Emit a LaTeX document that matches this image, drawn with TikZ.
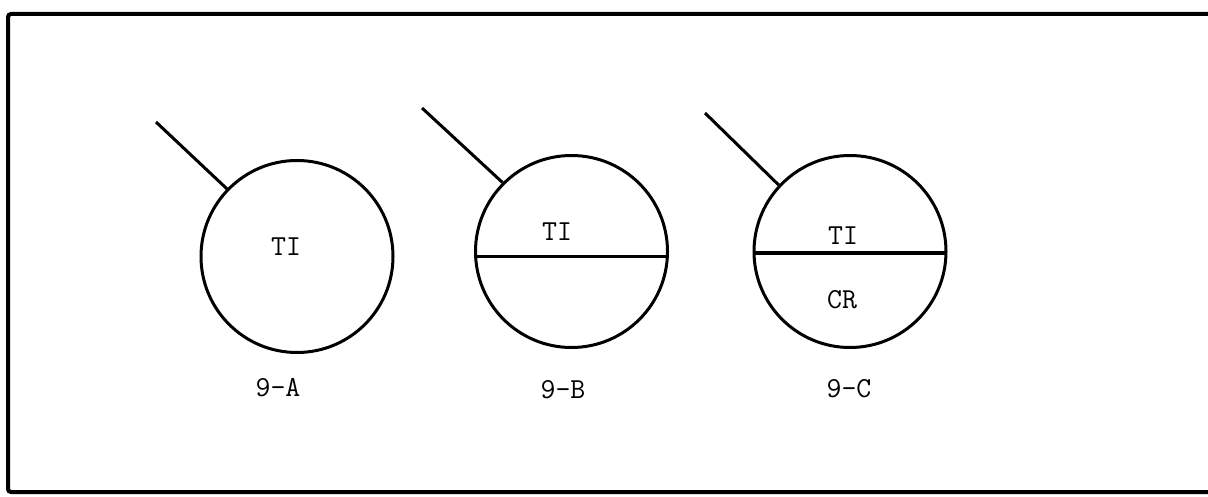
\documentclass[tikz,border=0pt]{standalone}
\usepackage{fontspec}
\begin{document}
\begin{tikzpicture}[x=1pt,y=-1pt,
  ring/.style={circle,draw,line width=3pt,inner sep=0pt,minimum size=192pt},
  stick/.style={line width=3pt},
  divider/.style={line width=3.5pt},
  lbl/.style={font=\fontsize{29}{29}\selectfont\ttfamily\addfontfeature{FakeBold=3},inner sep=0pt}]
\useasboundingbox (0,0) rectangle (1208,497);
% frame
\draw[line width=4pt,rounded corners=3pt] (1220,14) -- (8,14) -- (8,492) -- (1220,492);
% circles
\node[ring] (A) at (297,256.5) {};
\node[ring] (B) at (571.5,251.5) {};
\node[ring] (C) at (850,251.5) {};
% sticks
\coordinate (a0) at (156,122);
\coordinate (b0) at (422,108);
\coordinate (c0) at (705,113);
\draw[stick] (a0) -- (A.136);
\draw[stick] (b0) -- (B.135);
\draw[stick] (c0) -- (C.137);
% dividers
\draw[divider] (B.183) -- (B.-3);
\draw[divider] (C.181) -- (C.-1);
% texts
\node[lbl] (tA) at (286,247) {TI};
\node[lbl] (tB) at (557,232) {TI};
\node[lbl] (tC) at (843,236) {TI};
\node[lbl] (cC) at (842,300) {CR};
\node[lbl] (lA) at (278,388) {9-A};
\node[lbl] (lB) at (563,390) {9-B};
\node[lbl] (lC) at (849,389) {9-C};
\end{tikzpicture}
\end{document}
